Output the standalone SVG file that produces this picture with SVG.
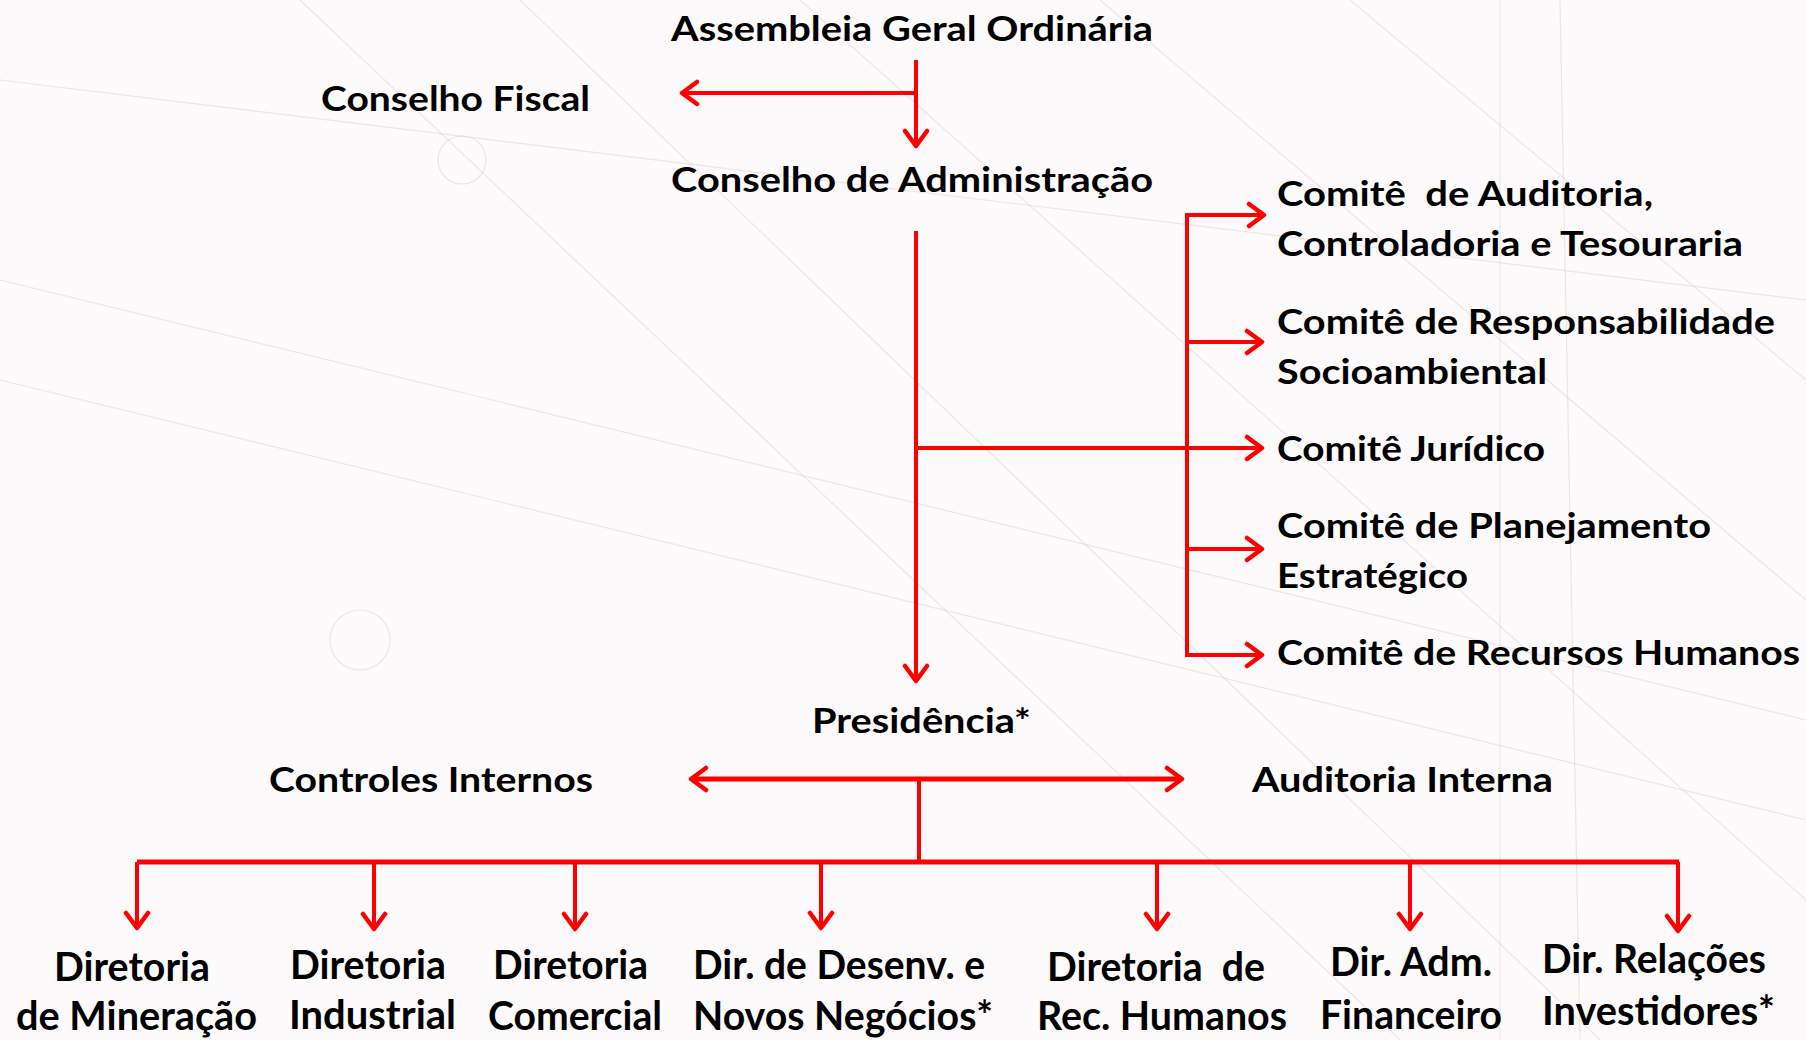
<svg xmlns="http://www.w3.org/2000/svg" width="1806" height="1040" viewBox="0 0 1806 1040">
  <style>
    .t { font-family: Lato, "Open Sans", "Liberation Sans", sans-serif; font-weight: 700; font-size: 34px; fill: #000; }
    .b { font-family: Lato, "Open Sans", "Liberation Sans", sans-serif; font-weight: 700; font-size: 41px; fill: #000; }
    .c { stroke: #ff0000; stroke-width: 4; fill: none; }
    .c5 { stroke: #ff0000; stroke-width: 5; fill: none; }
    .bg { stroke: #d9c9c6; stroke-width: 1.2; fill: none; opacity: 0.4; }
  </style>
  <defs>
    <marker id="arr" markerUnits="userSpaceOnUse" markerWidth="22" markerHeight="28" viewBox="0 0 22 28" refX="19" refY="14" orient="auto-start-reverse">
      <path d="M4,3 L19,14 L4,25" fill="none" stroke="#ff0000" stroke-width="4.5" stroke-linecap="round" stroke-linejoin="round"/>
    </marker>
  </defs>
  <rect x="0" y="0" width="1806" height="1040" fill="#fcfafa"/>
  <g id="background">
    <line class="bg" x1="0" y1="280" x2="1806" y2="720"/>
    <line class="bg" x1="0" y1="380" x2="1806" y2="820"/>
    <line class="bg" x1="300" y1="0" x2="1400" y2="1040"/>
    <line class="bg" x1="520" y1="0" x2="1600" y2="1040"/>
    <line class="bg" x1="1100" y1="0" x2="1806" y2="600"/>
    <line class="bg" x1="1350" y1="0" x2="1806" y2="380"/>
    <line class="bg" x1="800" y1="0" x2="1806" y2="900"/>
    <line class="bg" x1="0" y1="80" x2="1806" y2="300"/>
    <circle class="bg" cx="462" cy="160" r="24"/>
    <circle class="bg" cx="360" cy="640" r="30"/>
    <line class="bg" x1="1500" y1="0" x2="1500" y2="1040"/>
    <line class="bg" x1="1560" y1="0" x2="1580" y2="1040"/>
  </g>

  <g id="connectors">
    <line class="c" x1="916" y1="60" x2="916" y2="146" marker-end="url(#arr)"/>
    <line class="c" x1="916" y1="93" x2="682" y2="93" marker-end="url(#arr)"/>
    <line class="c" x1="916" y1="231" x2="916" y2="681" marker-end="url(#arr)"/>
    <line class="c" x1="916" y1="448" x2="1262" y2="448" marker-end="url(#arr)"/>
    <line class="c" x1="1187" y1="213" x2="1187" y2="657"/>
    <line class="c" x1="1185" y1="215" x2="1264" y2="215" marker-end="url(#arr)"/>
    <line class="c" x1="1187" y1="342" x2="1262" y2="342" marker-end="url(#arr)"/>
    <line class="c" x1="1187" y1="549" x2="1262" y2="549" marker-end="url(#arr)"/>
    <line class="c" x1="1185" y1="655" x2="1262" y2="655" marker-end="url(#arr)"/>
    <line class="c5" x1="691" y1="779" x2="1182" y2="779" marker-start="url(#arr)" marker-end="url(#arr)"/>
    <line class="c" x1="919" y1="779" x2="919" y2="864"/>
    <line class="c5" x1="137" y1="862" x2="1679" y2="862"/>
    <line class="c" x1="137" y1="862" x2="137" y2="928" marker-end="url(#arr)"/>
    <line class="c" x1="374" y1="862" x2="374" y2="929" marker-end="url(#arr)"/>
    <line class="c" x1="575" y1="862" x2="575" y2="929" marker-end="url(#arr)"/>
    <line class="c" x1="821" y1="862" x2="821" y2="928" marker-end="url(#arr)"/>
    <line class="c" x1="1157" y1="862" x2="1157" y2="929" marker-end="url(#arr)"/>
    <line class="c" x1="1410" y1="862" x2="1410" y2="929" marker-end="url(#arr)"/>
    <line class="c" x1="1678" y1="862" x2="1678" y2="931" marker-end="url(#arr)"/>
  </g>

  <g id="assembleia"><text class="t" x="671" y="41" textLength="482" lengthAdjust="spacingAndGlyphs">Assembleia Geral Ordinária</text></g>
  <g id="conselho-fiscal"><text class="t" x="321" y="111" textLength="269" lengthAdjust="spacingAndGlyphs">Conselho Fiscal</text></g>
  <g id="conselho-administracao"><text class="t" x="671" y="192" textLength="482" lengthAdjust="spacingAndGlyphs">Conselho de Administração</text></g>

  <g id="comite-auditoria">
    <text class="t" x="1277" y="206" textLength="376" lengthAdjust="spacingAndGlyphs" xml:space="preserve">Comitê  de Auditoria,</text>
    <text class="t" x="1277" y="256" textLength="466" lengthAdjust="spacingAndGlyphs">Controladoria e Tesouraria</text>
  </g>
  <g id="comite-responsabilidade">
    <text class="t" x="1277" y="334" textLength="498" lengthAdjust="spacingAndGlyphs">Comitê de Responsabilidade</text>
    <text class="t" x="1277" y="384" textLength="270" lengthAdjust="spacingAndGlyphs">Socioambiental</text>
  </g>
  <g id="comite-juridico"><text class="t" x="1277" y="461" textLength="268" lengthAdjust="spacingAndGlyphs">Comitê Jurídico</text></g>
  <g id="comite-planejamento">
    <text class="t" x="1277" y="538" textLength="434" lengthAdjust="spacingAndGlyphs">Comitê de Planejamento</text>
    <text class="t" x="1277" y="588" textLength="191" lengthAdjust="spacingAndGlyphs">Estratégico</text>
  </g>
  <g id="comite-rh"><text class="t" x="1277" y="665" textLength="523" lengthAdjust="spacingAndGlyphs">Comitê de Recursos Humanos</text></g>

  <g id="presidencia"><text class="t" x="812" y="733" textLength="219" lengthAdjust="spacingAndGlyphs">Presidência*</text></g>
  <g id="controles-internos"><text class="t" x="269" y="792" textLength="324" lengthAdjust="spacingAndGlyphs">Controles Internos</text></g>
  <g id="auditoria-interna"><text class="t" x="1252" y="792" textLength="301" lengthAdjust="spacingAndGlyphs">Auditoria Interna</text></g>

  <g id="dir-mineracao">
    <text class="b" x="54" y="981" textLength="156" lengthAdjust="spacingAndGlyphs">Diretoria</text>
    <text class="b" x="16" y="1030" textLength="241" lengthAdjust="spacingAndGlyphs">de Mineração</text>
  </g>
  <g id="dir-industrial">
    <text class="b" x="290" y="979" textLength="156" lengthAdjust="spacingAndGlyphs">Diretoria</text>
    <text class="b" x="289" y="1029" textLength="167" lengthAdjust="spacingAndGlyphs">Industrial</text>
  </g>
  <g id="dir-comercial">
    <text class="b" x="493" y="979" textLength="155" lengthAdjust="spacingAndGlyphs">Diretoria</text>
    <text class="b" x="488" y="1030" textLength="174" lengthAdjust="spacingAndGlyphs">Comercial</text>
  </g>
  <g id="dir-desenv">
    <text class="b" x="693" y="979" textLength="292" lengthAdjust="spacingAndGlyphs">Dir. de Desenv. e</text>
    <text class="b" x="693" y="1030" textLength="300" lengthAdjust="spacingAndGlyphs">Novos Negócios*</text>
  </g>
  <g id="dir-rh">
    <text class="b" x="1047" y="981" textLength="218" lengthAdjust="spacingAndGlyphs" xml:space="preserve">Diretoria  de</text>
    <text class="b" x="1037" y="1030" textLength="250" lengthAdjust="spacingAndGlyphs">Rec. Humanos</text>
  </g>
  <g id="dir-adm">
    <text class="b" x="1330" y="976" textLength="162" lengthAdjust="spacingAndGlyphs">Dir. Adm.</text>
    <text class="b" x="1320" y="1029" textLength="182" lengthAdjust="spacingAndGlyphs">Financeiro</text>
  </g>
  <g id="dir-ri">
    <text class="b" x="1542" y="973" textLength="224" lengthAdjust="spacingAndGlyphs">Dir. Relações</text>
    <text class="b" x="1542" y="1025" textLength="233" lengthAdjust="spacingAndGlyphs">Investidores*</text>
  </g>
</svg>
